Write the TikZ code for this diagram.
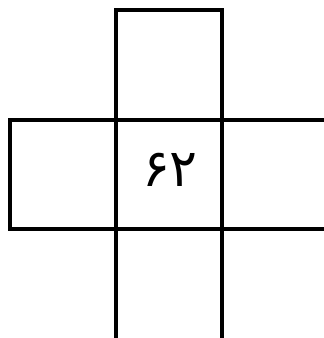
\documentclass[tikz,border=0pt]{standalone}
\usepackage{fontspec}
\newfontfamily\arabicfont[Script=Arabic]{DejaVu Sans}
\begin{document}
\begin{tikzpicture}[x=1pt,y=1pt,gridline/.style={line width=4pt,line join=miter,black}]
\useasboundingbox (0,0) rectangle (324,338);
% top square
\draw[gridline] (115.7,218.3) rectangle (221.7,328.3);
% left square
\draw[gridline] (9.7,108.5) rectangle (115.7,218.3);
% horizontal lines extending right
\draw[gridline] (115.7,218.3) -- (324,218.3);
\draw[gridline] (115.7,108.5) -- (324,108.5);
% vertical lines extending down
\draw[gridline] (115.7,218.3) -- (115.7,0);
\draw[gridline] (221.7,218.3) -- (221.7,0);
\node[font=\arabicfont\fontsize{52}{56}\selectfont,inner sep=0pt] (num) at (170,168) {۶۲};
\end{tikzpicture}
\end{document}
